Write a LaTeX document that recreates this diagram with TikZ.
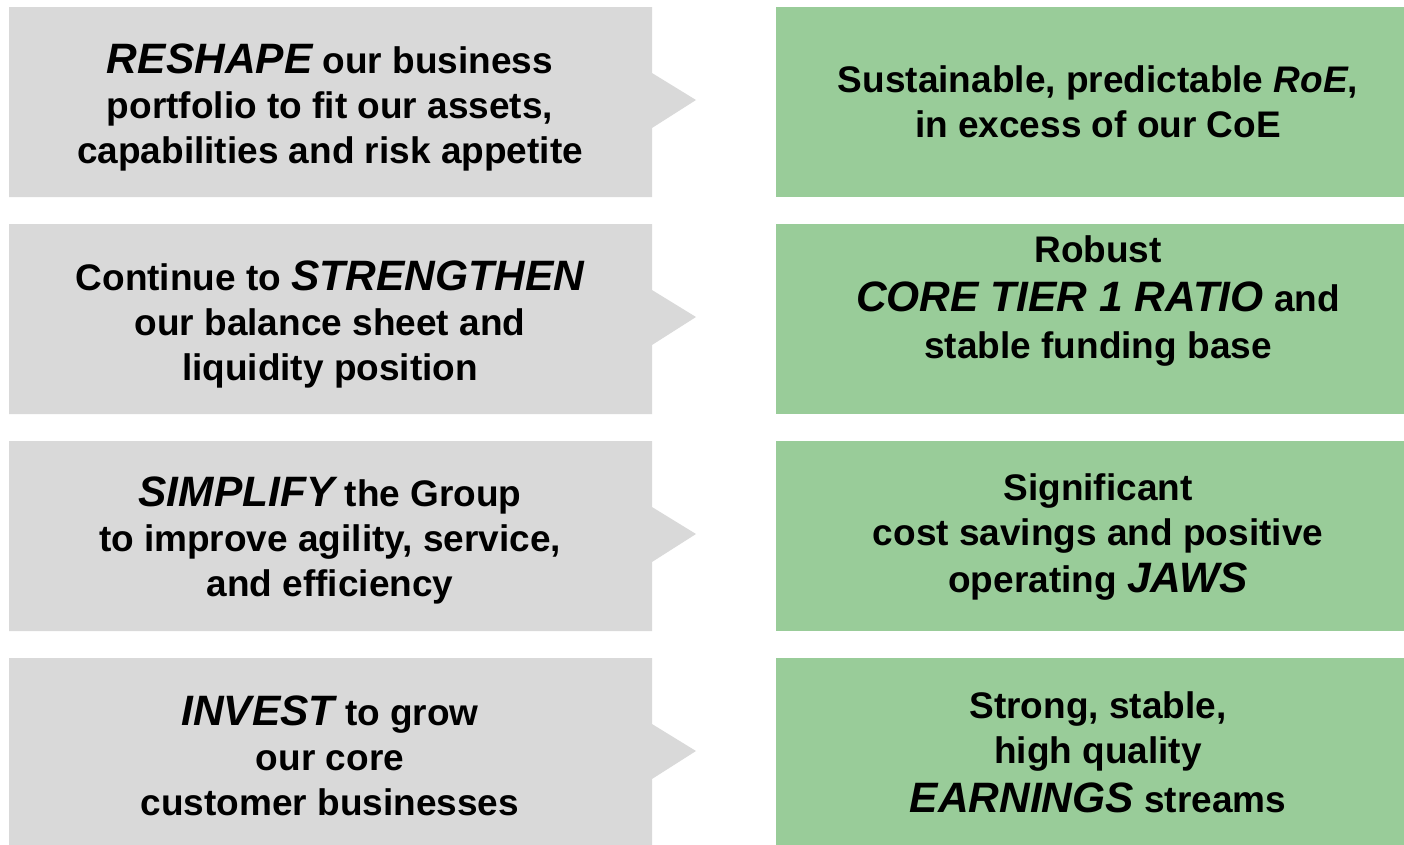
\documentclass[tikz,border=0pt]{standalone}
\usepackage{fontspec}
\setmainfont{Liberation Sans}
\usetikzlibrary{positioning}
\definecolor{boxgrey}{HTML}{D9D9D9}
\definecolor{boxgreen}{HTML}{99CC99}
\newcommand{\kw}[1]{{\fontsize{42.5}{45}\selectfont\itshape #1}}

\begin{document}
\begin{tikzpicture}[x=1pt, y=-1pt,
    txt/.style={align=center, inner sep=0pt, font=\fontsize{37}{45}\selectfont\bfseries}]

    \useasboundingbox (0,0) rectangle (1404,844);

    %boxes
    \foreach \y in {7,224,441,658} {
        \fill [boxgrey] (9,\y) -- (652,\y) -- (652,\y+66) -- (696,\y+93)
            -- (652,\y+121) -- (652,\y+190) -- (9,\y+190) -- cycle;
        \fill [boxgreen] (776,\y) rectangle (1404,\y+190);
    }

    %left nodes
    \node[txt] (reshape) at (330,107) {\kw{RESHAPE} our business\\portfolio to fit our assets,\\capabilities and risk appetite};
    \node[txt] (strengthen) at (330,324) {Continue to \kw{STRENGTHEN}\\our balance sheet and\\liquidity position};
    \node[txt] (simplify) at (330,540) {\kw{SIMPLIFY} the Group\\to improve agility, service,\\and efficiency};
    \node[txt] (invest) at (330,756) {\kw{INVEST} to grow\\our core\\customer businesses};

    %right nodes
    \node[txt] (roe) at (1098,102) {Sustainable, predictable \textit{RoE},\\in excess of our CoE};
    \node[txt] (ratio) at (1098,301) {Robust\\[4pt]\kw{CORE TIER 1 RATIO} and\\[2pt]stable funding base};
    \node[txt] (jaws) at (1098,537) {Significant\\cost savings and positive\\[2pt]operating \kw{JAWS}};
    \node[txt] (earnings) at (1098,752) {Strong, stable,\\high quality\\[4pt]\kw{EARNINGS} streams};

\end{tikzpicture}
\end{document}
